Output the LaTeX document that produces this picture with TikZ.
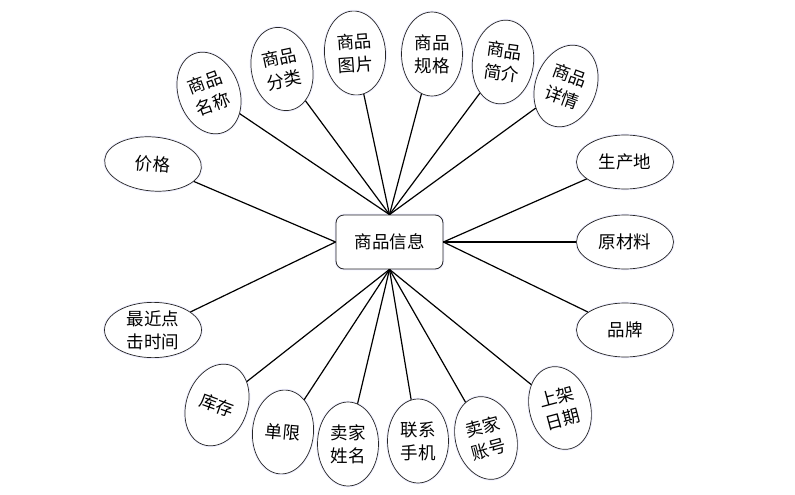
\documentclass[tikz,border=0pt]{standalone}
\usepackage{fontspec}
\newfontfamily\cjk{Noto Sans CJK SC}
\usetikzlibrary{shapes.geometric}
\tikzset{
  attr/.style={ellipse, draw=black!85, line width=0.7pt, fill=white,
    preaction={draw=blue!7, line width=2.6pt},
    inner sep=0pt, align=center, font=\cjk\fontsize{17.5}{23}\selectfont},
  tall/.style={attr, minimum width=61pt, minimum height=84pt},
  wide/.style={attr, minimum width=97pt, minimum height=54pt},
  entity/.style={draw=black!85, line width=0.8pt, rounded corners=8pt, fill=white,
    preaction={draw=blue!7, line width=2.6pt, rounded corners=8pt},
    minimum width=107pt, minimum height=54pt, inner sep=0pt,
    font=\cjk\fontsize{17.5}{23}\selectfont},
  link/.style={line width=1.2pt, black}
}
\begin{document}
\begin{tikzpicture}[x=1pt,y=-1pt]
\useasboundingbox (0,0) rectangle (795,495);
\node[entity] (e) at (389.5,242) {商品信息};
% top
\node[tall, rotate=20]  (mc) at (209,93) {商品\\名称};
\node[tall, rotate=12]  (fl) at (282,69) {商品\\分类};
\node[tall, rotate=4]   (tp) at (355,53) {商品\\图片};
\node[tall]             (gg) at (432,54) {商品\\规格};
\node[tall, rotate=-8]  (jj) at (503,62) {商品\\简介};
\node[tall, rotate=-20] (xq) at (566,86) {商品\\详情};
% left
\node[wide, rotate=-5]  (jg) at (153,164) {价格};
\node[wide]             (zj) at (153,330) {最近点\\击时间};
% right
\node[wide] (sc) at (625,162) {生产地};
\node[wide] (ycl) at (625,242) {原材料};
\node[wide] (pp) at (625,330) {品牌};
% bottom
\node[tall, rotate=-20] (kc) at (217,405) {库存};
\node[tall, rotate=-5]  (dx) at (283,432) {单限};
\node[tall]             (xm) at (348,444) {卖家\\姓名};
\node[tall]             (sj) at (418,441) {联系\\手机};
\node[tall, rotate=15]  (zh) at (486,438) {卖家\\账号};
\node[tall, rotate=15]  (rq) at (560,408) {上架\\日期};
% links
\foreach \n in {mc,fl,tp,gg,jj,xq} \draw[link] (e.north) -- (\n);
\foreach \n in {kc,dx,xm,sj,zh,rq} \draw[link] (e.south) -- (\n);
\foreach \n in {jg,zj} \draw[link] (e.west) -- (\n);
\foreach \n in {sc,ycl,pp} \draw[link] (e.east) -- (\n);
\end{tikzpicture}
\end{document}
